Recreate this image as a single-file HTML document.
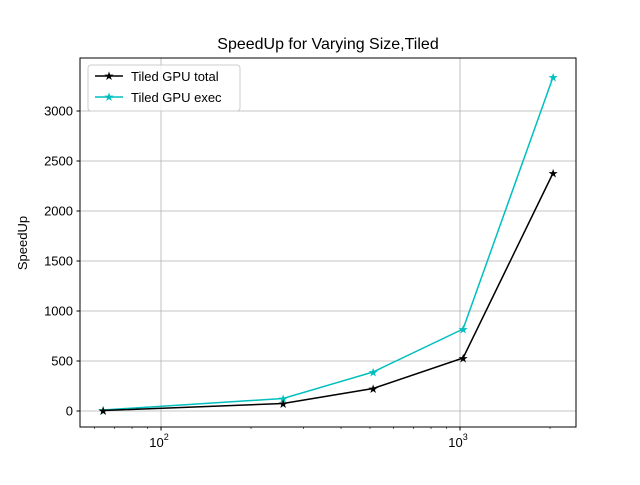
<!DOCTYPE html>
<html><head><meta charset="utf-8"><style>
body{margin:0;background:#fff;}
svg text{font-family:"Liberation Sans","DejaVu Sans",sans-serif;}
</style></head><body>
<svg id="chart" width="640" height="480" xmlns="http://www.w3.org/2000/svg">
<rect width="640" height="480" fill="#fff"/>
<text x="328" y="49" font-size="16" text-anchor="middle">SpeedUp for Varying Size,Tiled</text>
<text transform="translate(27,243) rotate(-90)" font-size="13" text-anchor="middle">SpeedUp</text>
<g id="grid"></g><g id="ticks"></g><g id="series"></g>
<rect x="80" y="58" width="496" height="369" fill="none" stroke="#000" stroke-width="1"/>
<g>
<rect x="88" y="65" width="152" height="46" rx="3" fill="#fff" fill-opacity="0.8" stroke="#ccc"/>
<g><line x1="95" y1="76" x2="123" y2="76" stroke="#000" stroke-width="1.5"/><text x="109" y="80" font-size="12" text-anchor="middle">★</text><text x="131" y="81" font-size="13">Tiled GPU total</text></g>
<g><line x1="95" y1="97" x2="123" y2="97" stroke="#00bfbf" stroke-width="1.5"/><text x="109" y="101" font-size="12" text-anchor="middle" fill="#00bfbf">★</text><text x="131" y="102" font-size="13">Tiled GPU exec</text></g>
</g>
</svg>
<script>
const sizes=[64,256,512,1024,2048];
const totalVals=[5,75,225,530,2380];
const execVals=[10,125,390,820,3340];
const yTicks=[0,500,1000,1500,2000,2500,3000];
const xMajor=[100,1000];
const xMajorLabels=["10","10"];
const xMinor=[60,70,80,90,200,300,400,500,600,700,800,900,2000];
const NS="http://www.w3.org/2000/svg";
const L=80,R=576,T=58,B=427;
const lxMin=1.729,lxMax=3.388,yMin=-160,yMax=3530;
function sx(v){return L+(Math.log10(v)-lxMin)/(lxMax-lxMin)*(R-L);}
function sy(v){return B-(v-yMin)/(yMax-yMin)*(B-T);}
function mk(tag,attrs,parent){const e=document.createElementNS(NS,tag);for(const k in attrs)e.setAttribute(k,attrs[k]);parent.appendChild(e);return e;}
const grid=document.getElementById('grid'),ticks=document.getElementById('ticks'),ser=document.getElementById('series');
yTicks.forEach(v=>{const y=sy(v);
 const g=mk('line',{x1:L,x2:R,y1:y,y2:y,stroke:'#b0b0b0','stroke-width':0.8},grid);
 
 
 mk('line',{x1:L-3.5,x2:L,y1:y,y2:y,stroke:'#000'},ticks);
 const t=mk('text',{x:L-7,y:y+4.5,'font-size':13,'text-anchor':'end'},ticks);t.textContent=v;
 
 
});
xMajor.forEach((v,i)=>{const x=sx(v);
 const g=mk('line',{x1:x,x2:x,y1:T,y2:B,stroke:'#b0b0b0','stroke-width':0.8},grid);
 
 
 mk('line',{x1:x,x2:x,y1:B,y2:B+3.5,stroke:'#000'},ticks);
 const t=mk('text',{x:x-2,y:B+20,'font-size':13,'text-anchor':'middle'},ticks);
 t.innerHTML=xMajorLabels[i]+'<tspan dy="-7" font-size="9">'+Math.round(Math.log10(v))+'</tspan>';
 
 
});
xMinor.forEach(v=>{const x=sx(v);if(x<L||x>R)return;mk('line',{x1:x,x2:x,y1:B,y2:B+2,stroke:'#000','stroke-width':0.6},ticks);});
function draw(vals,color,name){
 const pts=sizes.map((s,i)=>sx(s)+','+sy(vals[i])).join(' ');
 const pl=mk('polyline',{points:pts,fill:'none',stroke:color,'stroke-width':1.5},ser);
 
 
 sizes.forEach((s,i)=>{const t=mk('text',{x:sx(s),y:sy(vals[i])+4.5,'font-size':12,'text-anchor':'middle',fill:color},ser);t.textContent='★';
  
  });
}
draw(execVals,'#00bfbf','exec-series');
draw(totalVals,'#000000','total-series');
</script>
</body></html>
